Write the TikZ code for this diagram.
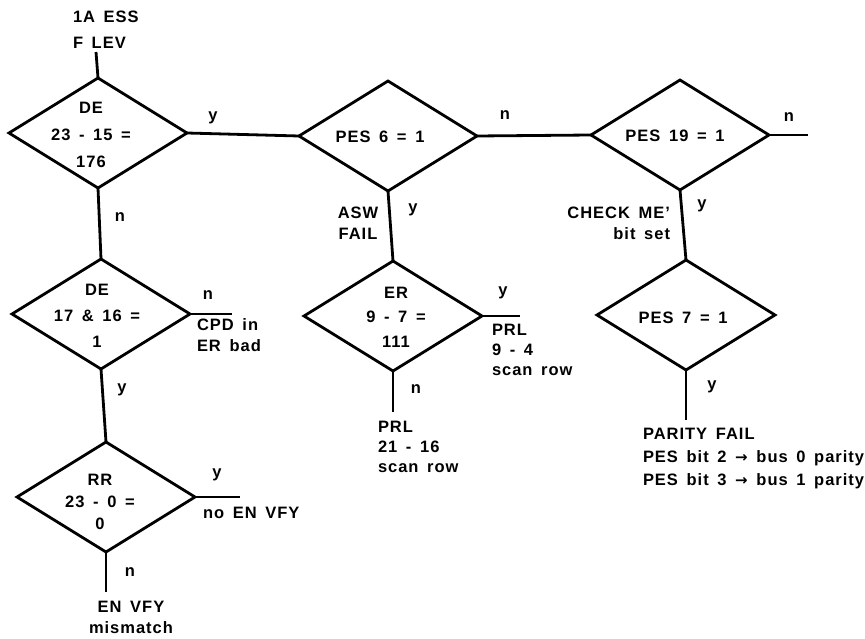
\documentclass[tikz,border=0pt]{standalone}
\usepackage{fontspec}
\setmainfont{Liberation Sans Bold}[LetterSpace=6, WordSpace=1.55]
\newfontfamily\arrowfont{DejaVu Sans Bold}
\usetikzlibrary{shapes.geometric}
\begin{document}
\begin{tikzpicture}[x=1pt,y=-1pt,
  every node/.style={font=\fontsize{16.5}{21}\selectfont, inner sep=0pt, outer sep=0pt},
  dec/.style={draw, shape=diamond, minimum width=178pt, minimum height=110pt, line width=2.8pt},
  wire/.style={line width=2.8pt},
  yn/.style={font=\fontsize{16.5}{20}\selectfont},
  txt/.style={align=left},
  ctr/.style={align=center}]
\useasboundingbox (0,0) rectangle (865,639);

% decision diamonds
\node[dec] (d1) at (98,133) {};
\node[dec] (d2) at (101,314) {};
\node[dec] (d3) at (106,497) {};
\node[dec] (p6) at (388,136) {};
\node[dec] (er) at (393,316) {};
\node[dec] (p19) at (680,135) {};
\node[dec] (p7) at (686,315) {};

% texts inside diamonds
\node[ctr, font=\fontsize{16.5}{27}\selectfont] (d1t) at (91,135) {DE\\23 - 15 =\\176};
\node[ctr, font=\fontsize{16.5}{26}\selectfont] (d2t) at (97,316) {DE\\17 \& 16 =\\1};
\node[ctr, font=\fontsize{16.5}{22}\selectfont] (d3t) at (100,502) {RR\\23 - 0 =\\0};
\node[ctr] (p6t) at (380,137) {PES 6 = 1};
\node[ctr, font=\fontsize{16.5}{24.5}\selectfont] (ert) at (396,317) {ER\\9 - 7 =\\111};
\node[ctr] (p19t) at (675,136) {PES 19 = 1};
\node[ctr] (p7t) at (683,318) {PES 7 = 1};

% free ends
\coordinate (start) at (96,52);
\coordinate (d2e) at (232,314);
\coordinate (d3e) at (240,497);
\coordinate (d3s) at (106,592);
\coordinate (ere) at (520,316);
\coordinate (ers) at (393,412);
\coordinate (p19e) at (808,135);
\coordinate (p7s) at (686,420);

% connectors
\draw[wire] (start) -- (d1.north);
\draw[wire] (d1.east) -- (p6.west);
\draw[wire] (p6.east) -- (p19.west);
\draw[wire] (p19.east) -- (p19e);
\draw[wire] (d1.south) -- (d2.north);
\draw[wire] (d2.east) -- (d2e);
\draw[wire] (d2.south) -- (d3.north);
\draw[wire] (d3.east) -- (d3e);
\draw[wire] (d3.south) -- (d3s);
\draw[wire] (p6.south) -- (er.north);
\draw[wire] (er.east) -- (ere);
\draw[wire] (er.south) -- (ers);
\draw[wire] (p19.south) -- (p7.north);
\draw[wire] (p7.south) -- (p7s);

% branch letters
\node[yn] (l1) at (213,118) {y};
\node[yn] (l2) at (120,217) {n};
\node[yn] (l3) at (208,295) {n};
\node[yn] (l4) at (122,390) {y};
\node[yn] (l5) at (217,475) {y};
\node[yn] (l6) at (130,572) {n};
\node[yn] (l7) at (505,115) {n};
\node[yn] (l8) at (413,210) {y};
\node[yn] (l9) at (503,293) {y};
\node[yn] (l10) at (416,389) {n};
\node[yn] (l11) at (789,117) {n};
\node[yn] (l12) at (702,206) {y};
\node[yn] (l13) at (712,387) {y};

% annotations
\node[txt, anchor=west] (a1) at (73,17) {1A ESS};
\node[txt, anchor=west] (a2) at (73,43) {F LEV};
\node[txt, anchor=north west] (a3) at (197,319) {CPD in\\ER bad};
\node[txt, anchor=west] (a4) at (203,513) {no EN VFY};
\node[ctr, anchor=north] (a5) at (131,601) {EN VFY\\mismatch};
\node[ctr] (a6) at (358,223) {ASW\\FAIL};
\node[txt, anchor=north west, font=\fontsize{16.5}{20}\selectfont] (a7) at (492,324) {PRL\\9 - 4\\scan row};
\node[txt, anchor=north west, font=\fontsize{16.5}{20}\selectfont] (a8) at (378,421) {PRL\\21 - 16\\scan row};
\node[align=right, anchor=east] (a9) at (670,223) {CHECK ME'\\bit set};
\node[txt, anchor=north west, font=\fontsize{16.5}{23}\selectfont] (a10) at (643,428) {PARITY FAIL\\PES bit 2 {\arrowfont\fontsize{15}{15}\selectfont →} bus 0 parity\\PES bit 3 {\arrowfont\fontsize{15}{15}\selectfont →} bus 1 parity};
\end{tikzpicture}
\end{document}
